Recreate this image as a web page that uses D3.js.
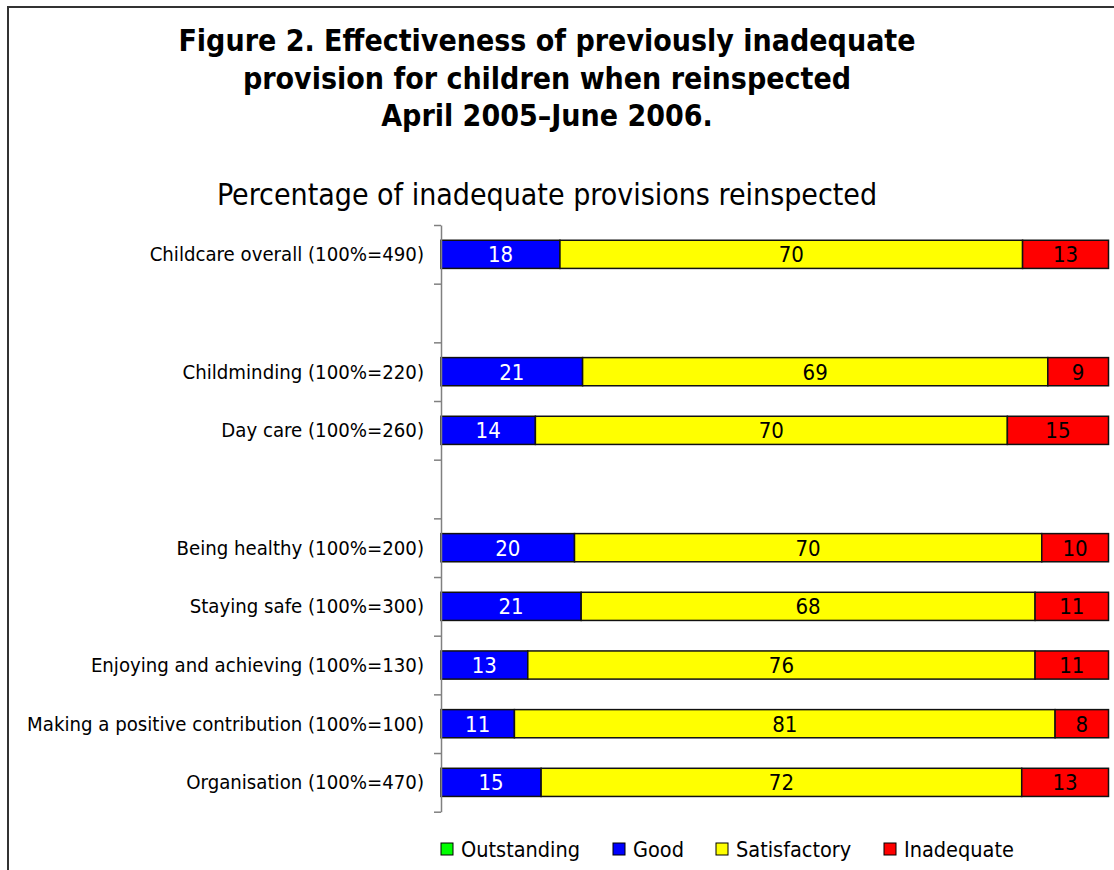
<!DOCTYPE html>
<html lang="en">
<head>
<meta charset="utf-8">
<script src="https://cdn.jsdelivr.net/npm/d3@7"></script>
<style>
  body { margin: 0; background: #fff; }
  text { font-family: "DejaVu Sans Condensed", "DejaVu Sans", sans-serif; font-stretch: condensed; }
</style>
</head>
<body>
<svg id="chart" width="1114" height="870"></svg>
<script>
// data
var categories = [
  "Childcare overall (100%=490)", "",
  "Childminding (100%=220)", "Day care (100%=260)", "",
  "Being healthy (100%=200)", "Staying safe (100%=300)",
  "Enjoying and achieving (100%=130)",
  "Making a positive contribution (100%=100)",
  "Organisation (100%=470)"
];
var outstanding  = [0, null, 0, 0, null, 0, 0, 0, 0, 0];
var good         = [18, null, 21, 14, null, 20, 21, 13, 11, 15];
var satisfactory = [70, null, 69, 70, null, 70, 68, 76, 81, 72];
var inadequate   = [13, null, 9, 15, null, 10, 11, 11, 8, 13];

var seriesNames  = ["Outstanding", "Good", "Satisfactory", "Inadequate"];
var seriesColors = ["#00ff00", "#0000ff", "#ffff00", "#ff0000"];
var labelColors  = ["#000", "#fff", "#000", "#000"];

var titleLines = [
  "Figure 2. Effectiveness of previously inadequate",
  "provision for children when reinspected",
  "April 2005\u2013June 2006."
];
var subtitle = "Percentage of inadequate provisions reinspected";

var svg = d3.select("#chart");

// frame round the figure (runs off the right and bottom)
svg.append("rect")
  .attr("x", 8).attr("y", 7)
  .attr("width", 1130).attr("height", 900)
  .attr("fill", "none")
  .attr("stroke", "#333")
  .attr("stroke-width", 2);

// title
svg.append("g").selectAll("text")
  .data(titleLines)
  .join("text")
  .attr("x", 547)
  .attr("y", function(d, i) { return 51 + i * 37.5; })
  .attr("text-anchor", "middle")
  .attr("font-size", 30)
  .attr("font-weight", "bold")
  .attr("fill", "#000")
  .text(function(d) { return d; });

svg.append("text")
  .attr("x", 547).attr("y", 205)
  .attr("text-anchor", "middle")
  .attr("font-size", 30)
  .attr("fill", "#000")
  .text(subtitle);

// rows
var rows = categories.map(function(c, i) {
  var vals = [outstanding[i], good[i], satisfactory[i], inadequate[i]];
  return { key: "r" + i, label: c, vals: vals, empty: good[i] === null };
});

var y = d3.scaleBand()
  .domain(rows.map(function(d) { return d.key; }))
  .range([225, 811.7])
  .paddingInner(0.52)
  .paddingOuter(0.26);

var x = d3.scaleLinear().domain([0, 1]).range([441, 1108.5]);

// stacked segments, as shares of each row's total (100% stacked)
var segs = [];
rows.forEach(function(r) {
  if (r.empty) return;
  var total = d3.sum(r.vals);
  var acc = 0;
  r.vals.forEach(function(v, j) {
    segs.push({ key: r.key, s: j, v: v, x0: acc / total, x1: (acc + v) / total });
    acc += v;
  });
});

var bars = svg.append("g");
bars.selectAll("rect")
  .data(segs.filter(function(d) { return d.v > 0; }))
  .join("rect")
  .attr("x", function(d) { return x(d.x0); })
  .attr("y", function(d) { return y(d.key); })
  .attr("width", function(d) { return x(d.x1) - x(d.x0); })
  .attr("height", y.bandwidth())
  .attr("fill", function(d) { return seriesColors[d.s]; })
  .attr("stroke", "#111")
  .attr("stroke-width", 1.5);

bars.selectAll("text")
  .data(segs.filter(function(d) { return d.v > 0; }))
  .join("text")
  .attr("x", function(d) { return (x(d.x0) + x(d.x1)) / 2; })
  .attr("y", function(d) { return y(d.key) + y.bandwidth() / 2 + 8; })
  .attr("text-anchor", "middle")
  .attr("font-size", 22)
  .attr("fill", function(d) { return labelColors[d.s]; })
  .text(function(d) { return d.v; });

// axis: line with ticks between the slots
var yb = d3.scaleLinear().domain([0, categories.length]).range([225, 811.7]);
var axis = svg.append("g")
  .attr("transform", "translate(441,0)")
  .call(d3.axisLeft(yb)
    .tickValues(d3.range(categories.length + 1))
    .tickFormat("")
    .tickSize(7)
    .tickSizeOuter(0));
axis.selectAll("path, line").attr("stroke", "#808080").attr("stroke-width", 1.5);

// category labels
svg.append("g").selectAll("text")
  .data(rows.filter(function(d) { return d.label; }))
  .join("text")
  .attr("x", 424)
  .attr("y", function(d) { return y(d.key) + y.bandwidth() / 2 + 7; })
  .attr("text-anchor", "end")
  .attr("font-size", 20.2)
  .attr("fill", "#000")
  .text(function(d) { return d.label; });

// legend
var legendX = [441, 613, 716, 884];
var legend = svg.append("g").selectAll("g")
  .data(seriesNames)
  .join("g")
  .attr("transform", function(d, i) { return "translate(" + legendX[i] + ",849)"; });
legend.append("rect")
  .attr("x", 0).attr("y", -6)
  .attr("width", 12).attr("height", 12)
  .attr("fill", function(d, i) { return seriesColors[i]; })
  .attr("stroke", "#000")
  .attr("stroke-width", 1);
legend.append("text")
  .attr("x", 20).attr("y", 8)
  .attr("font-size", 21.5)
  .attr("fill", "#000")
  .text(function(d) { return d; });
</script>
</body>
</html>
